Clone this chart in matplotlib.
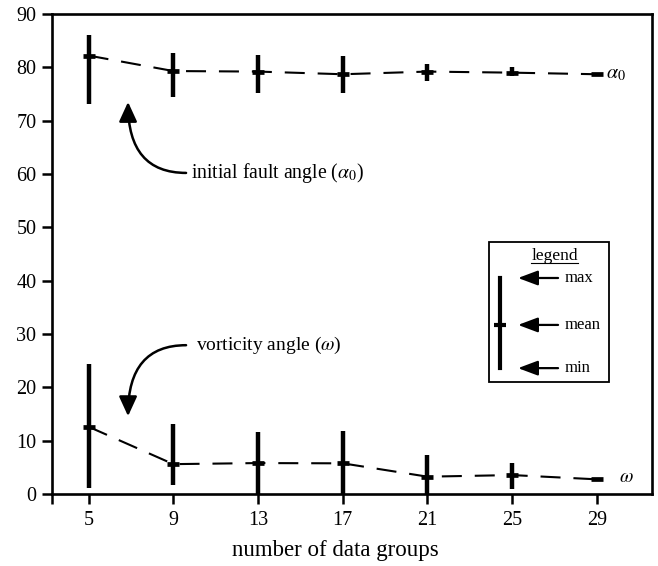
import numpy as np
import matplotlib
matplotlib.use('Agg')
import matplotlib.pyplot as plt

plt.rcParams['font.family'] = ['Liberation Serif', 'DejaVu Serif']
plt.rcParams['mathtext.fontset'] = 'stix'

# number of data groups
groups = [5, 9, 13, 17, 21, 25, 29]

# initial fault angle (alpha_0)
alpha_mean = [82.2, 79.3, 79.2, 78.7, 79.2, 79.0, 78.7]
alpha_max  = [86.1, 82.6, 82.4, 82.2, 80.6, 80.0, 78.9]
alpha_min  = [73.1, 74.4, 75.2, 75.2, 77.4, 78.3, 78.5]

# vorticity angle (omega)
omega_mean = [12.6, 5.6, 5.8, 5.75, 3.25, 3.55, 2.75]
omega_max  = [24.4, 13.1, 11.6, 11.9, 7.4, 5.9, 2.9]
omega_min  = [1.1, 1.6, 0.0, 0.0, 0.0, 0.9, 2.6]

yticks = [0, 10, 20, 30, 40, 50, 60, 70, 80, 90]

fig = plt.figure(figsize=(6.58, 5.66), dpi=100)
ax = fig.add_axes([0.079, 0.1272, 0.912, 0.8481])


def serie(mean, lo, hi):
    mean = np.array(mean)
    err = [mean - np.array(lo), np.array(hi) - mean]
    ax.plot(groups, mean, color='black', lw=1.5, linestyle=(0, (9.6, 6.2)), zorder=2)
    ax.errorbar(groups, mean, yerr=err, fmt='none', ecolor='black',
                elinewidth=3.2, capsize=0, zorder=3)
    ax.plot(groups, mean, linestyle='none', marker='_', markersize=8,
            markeredgewidth=3.4, color='black', zorder=4)


serie(alpha_mean, alpha_min, alpha_max)
serie(omega_mean, omega_min, omega_max)

ax.text(29.45, alpha_mean[-1], r'$\alpha_{\mathit{0}}$', fontsize=14.5,
        va='center', ha='left')
ax.text(30.05, omega_mean[-1] + 0.4, r'$\omega$', fontsize=14,
        va='center', ha='left')

# curved arrows with labels
arrow = dict(arrowstyle='-|>,head_length=1.2,head_width=0.55', color='black',
             lw=1.8, shrinkA=0, shrinkB=0,
             connectionstyle='angle3,angleA=0,angleB=90')
ax.annotate('', xy=(6.86, 73.5), xytext=(9.6, 60.2), arrowprops=arrow)
ax.text(9.85, 60.2, r'initial fault angle ($\alpha_{\mathit{0}}$)', fontsize=14.2,
        va='center', ha='left')
ax.annotate('', xy=(6.86, 14.6), xytext=(9.6, 27.9), arrowprops=arrow)
ax.text(10.05, 27.9, r'vorticity angle ($\omega$)', fontsize=14,
        va='center', ha='left')

# hand drawn legend box
ax.add_patch(plt.Rectangle((23.91, 21.0), 5.67, 26.25, fill=False,
                           lw=1.3, ec='black', zorder=5))
ax.text(27.03, 44.6, 'legend', fontsize=12.5, ha='center', va='center')
ax.plot([25.9, 28.1], [43.3, 43.3], color='black', lw=0.8)
ax.plot([24.43, 24.43], [23.6, 40.5], color='black', lw=3.0)
ax.plot([24.43], [31.7], marker='_', markersize=8, markeredgewidth=3.0,
        color='black')
small = dict(arrowstyle='-|>,head_length=1.2,head_width=0.45', color='black',
             lw=1.6, shrinkA=0, shrinkB=0)
for yy, lab in [(40.5, 'max'), (31.7, 'mean'), (23.6, 'min')]:
    ax.annotate('', xy=(25.28, yy), xytext=(27.17, yy), arrowprops=small)
    ax.text(27.5, yy, lab, fontsize=12, ha='left', va='center')

ax.set_xlim(3.267, 31.61)
ax.set_ylim(0, 90)
ax.set_xticks(groups)
ax.set_xticks([3.267], minor=True)
ax.set_yticks(yticks)
ax.tick_params(axis='both', which='both', direction='out', length=7.2, width=1.8,
               labelsize=14.5)
ax.tick_params(axis='x', pad=5)
ax.tick_params(axis='y', pad=4)
for s in ax.spines.values():
    s.set_linewidth(1.9)
ax.set_xlabel('number of data groups', fontsize=16.5, labelpad=6)
ax.xaxis.set_label_coords(0.4717, -0.095)

fig.savefig('out.png', dpi=100)
